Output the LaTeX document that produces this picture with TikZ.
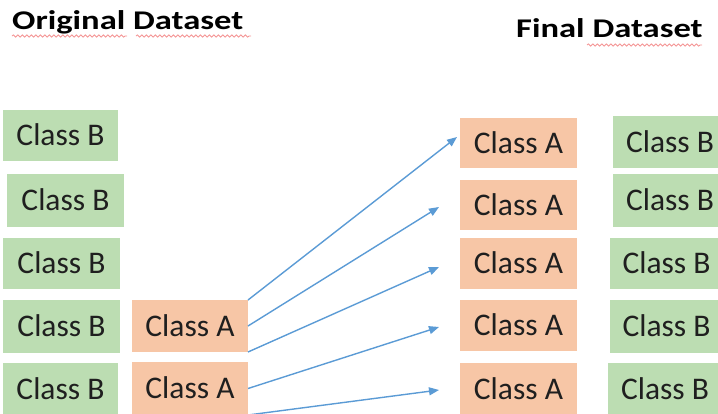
\documentclass[tikz,border=0pt]{standalone}
\usepackage{fontspec}
\setmainfont{Carlito}
\usetikzlibrary{arrows.meta,calc,decorations.pathmorphing}
\definecolor{boxgreen}{HTML}{BCDDB2}
\definecolor{boxorange}{HTML}{F7C6A6}
\definecolor{arrowblue}{HTML}{5B9BD5}
\definecolor{squiggle}{HTML}{F07070}
\tikzset{
  cell/.style={inner sep=0pt, outer sep=0pt, text height=20.3pt, text depth=0pt,
    font=\fontsize{31.5}{36}\selectfont, text=black!88},
  classb/.style={cell, fill=boxgreen},
  classa/.style={cell, fill=boxorange},
  dims/.style 2 args={minimum width=#1pt, minimum height=#2pt},
  oversample/.style={draw=arrowblue, line width=1.4pt,
    -{Triangle[length=10pt,width=8pt]}},
  title/.style={anchor=base west, inner sep=0pt},
  spell/.style={draw=squiggle, line width=0.8pt, opacity=0.75,
    decorate, decoration={snake, amplitude=1.1pt, segment length=4.5pt}}
}
\newcommand{\titletext}[1]{\scalebox{1.28}[1]{\fontsize{27}{30}\selectfont\bfseries #1}}
\begin{document}
\begin{tikzpicture}[x=1pt, y=-1pt]
\useasboundingbox (0,0) rectangle (718,413);

% headings
\node[title] (torig) at (12,29) {\titletext{Original Dataset}};
\node[title] (tfinal) at (516,37) {\titletext{Final Dataset}};
\draw[spell] (12,36) -- (127,36);
\draw[spell] (136,36) -- (251,36);
\draw[spell] (587,45) -- (702,45);

% original dataset: majority class
\node[classb, dims={115}{51}] (l1) at (60.5,135.5) {Class B};
\node[classb, dims={117}{53}] (l2) at (65.5,200.5) {Class B};
\node[classb, dims={117}{51}] (l3) at (61.5,263.5) {Class B};
\node[classb, dims={117}{53}] (l4) at (61.5,326.5) {Class B};
\node[classb, dims={115}{53}] (l5) at (60.5,389.5) {Class B};

% original dataset: minority class
\node[classa, dims={116}{52}] (a1) at (190,326) {Class A};
\node[classa, dims={116}{53}] (a2) at (190,388.5) {Class A};

% final dataset: oversampled minority class
\node[classa, dims={117}{50}] (r1) at (518.5,143) {Class A};
\node[classa, dims={117}{50}] (r2) at (518.5,205) {Class A};
\node[classa, dims={117}{51}] (r3) at (518.5,263.5) {Class A};
\node[classa, dims={117}{51}] (r4) at (518.5,325.5) {Class A};
\node[classa, dims={117}{52}] (r5) at (518.5,389) {Class A};

% final dataset: majority class
\node[classb, dims={114}{52}] (g1) at (670,142) {Class B};
\node[classb, dims={114}{53}] (g2) at (670,200.5) {Class B};
\node[classb, dims={113}{51}] (g3) at (666.5,263.5) {Class B};
\node[classb, dims={113}{53}] (g4) at (666.5,326.5) {Class B};
\node[classb, dims={114}{52}] (g5) at (665,389) {Class B};

% oversampling arrows
\draw[oversample] (a1.north east) -- ($(r1.west)+(-3,-6)$);
\draw[oversample] (a1.east) -- ($(r2.west)+(-21,2)$);
\draw[oversample] (a1.south east) -- ($(r3.west)+(-21,3.5)$);
\draw[oversample] (a2.east) -- ($(r4.west)+(-21,1.5)$);
\draw[oversample] (a2.south east) -- ($(r5.west)+(-21,1)$);
\end{tikzpicture}
\end{document}
